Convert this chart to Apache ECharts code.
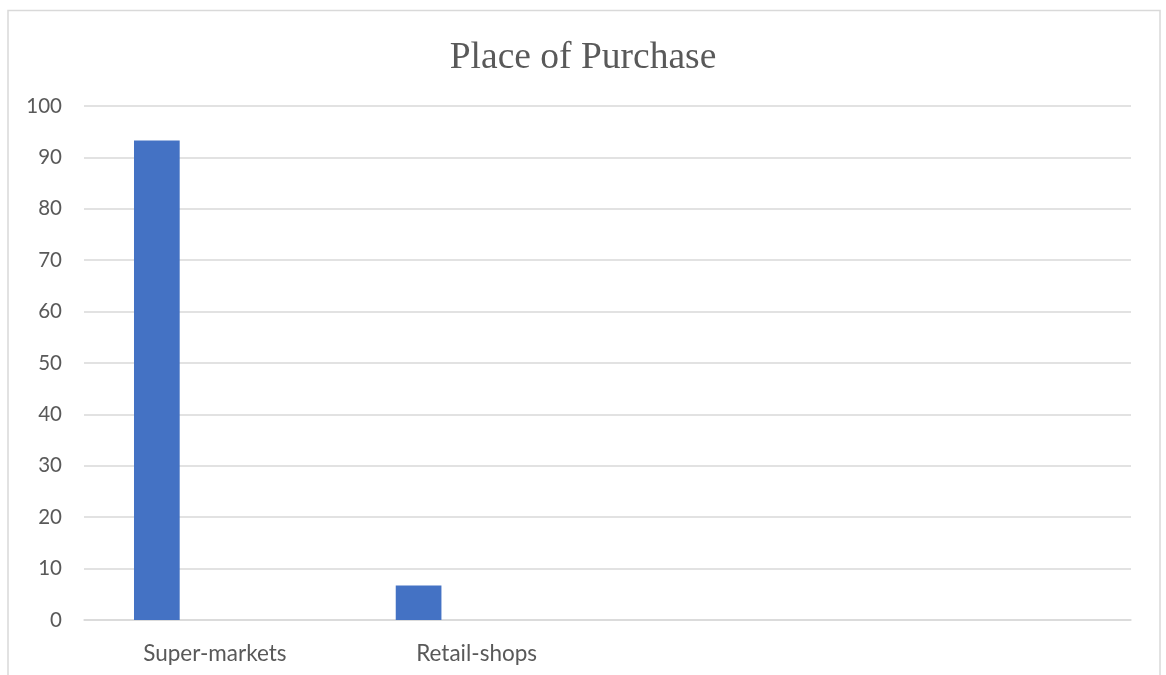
<!DOCTYPE html>
<html>
<head>
<meta charset="utf-8">
<title>Place of Purchase</title>
<script src="https://cdn.jsdelivr.net/npm/echarts@6/dist/echarts.min.js"></script>
<style>
  html, body { margin: 0; padding: 0; background: #ffffff; }
  #chart { width: 1166px; height: 675px; }
</style>
</head>
<body>
<div id="chart"></div>
<script>
// Category labels along the x axis (the last two slots are unused)
const categories = ['Super-markets', 'Retail-shops', '', ''];
// Share of respondents by place of purchase (%)
const percentValues = [93.3, 6.7, null, null];
// Companion series in the same cluster, left without values
const emptySeriesA = [null, null, null, null];
const emptySeriesB = [null, null, null, null];
// Value axis ticks
const yMin = 0;
const yMax = 100;
const yStep = 10;

const chart = echarts.init(document.getElementById('chart'), null, { renderer: 'canvas' });

const labelFont = 'Lato, "Liberation Sans", sans-serif';
const textGray = '#595959';
const lineGray = '#d9d9d9';

function clusterSeries(name, data) {
  return {
    name: name,
    type: 'bar',
    data: data,
    barGap: '27%',
    barCategoryGap: '38.2%',
    itemStyle: { color: '#4472C4' },
    emphasis: { disabled: true }
  };
}

chart.setOption({
  backgroundColor: '#ffffff',
  animation: false,
  title: {
    text: 'Place of Purchase',
    left: 'center',
    top: 34,
    textStyle: {
      fontFamily: '"Liberation Serif", "Times New Roman", serif',
      fontWeight: 'normal',
      fontSize: 37.5,
      color: textGray
    }
  },
  grid: {
    left: 84,
    right: 35,
    top: 106,
    bottom: 55
  },
  xAxis: {
    type: 'category',
    data: categories,
    axisLine: { show: true, lineStyle: { color: lineGray, width: 1.5 } },
    axisTick: { show: false },
    axisLabel: {
      interval: 0,
      margin: 22,
      fontFamily: labelFont,
      fontSize: 22.5,
      color: textGray
    },
    splitLine: { show: false }
  },
  yAxis: {
    type: 'value',
    min: yMin,
    max: yMax,
    interval: yStep,
    axisLine: { show: false },
    axisTick: { show: false },
    axisLabel: {
      margin: 22,
      fontFamily: labelFont,
      fontSize: 20.5,
      color: textGray
    },
    splitLine: { show: true, lineStyle: { color: lineGray, width: 1.5 } }
  },
  series: [
    clusterSeries('Percentage', percentValues),
    clusterSeries('Series 2', emptySeriesA),
    clusterSeries('Series 3', emptySeriesB)
  ],
  graphic: [{
    type: 'rect',
    silent: true,
    shape: { x: 8, y: 10.5, width: 1152, height: 700 },
    style: { fill: 'none', stroke: lineGray, lineWidth: 1.5 }
  }]
});
</script>
</body>
</html>
